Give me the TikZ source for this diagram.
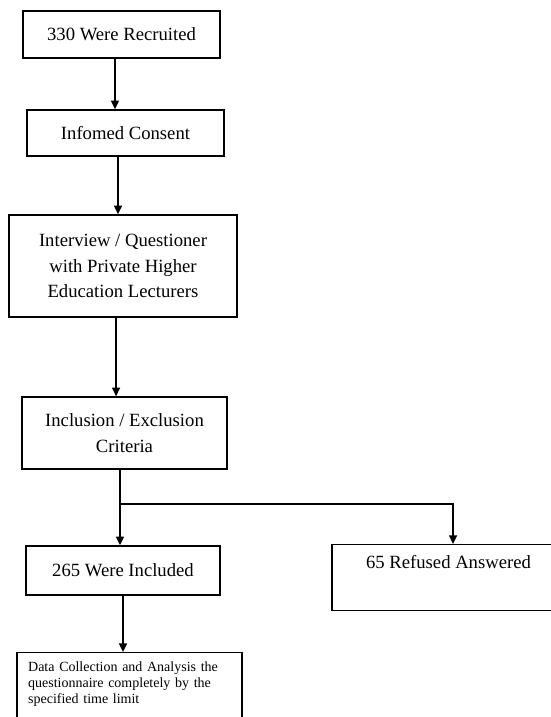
\documentclass[tikz,border=0pt]{standalone}
\usepackage{fontspec}
\setmainfont{Liberation Serif}
\usetikzlibrary{arrows.meta}
\tikzset{
  box/.style={draw, line width=1.1pt, inner sep=0pt, align=center,
    font=\fontsize{14}{19}\selectfont},
  arr/.style={line width=1.1pt, -{Triangle[length=6.5pt,width=6pt]}},
}
\begin{document}
\begin{tikzpicture}[x=0.75pt,y=-0.75pt]
    \useasboundingbox (0,0) rectangle (550,717);
    % Main column
    \node[box, minimum width=147.75pt, minimum height=35.25pt] (recruited) at (121.5,34.5) {330 Were Recruited};
    \node[box, minimum width=147.75pt, minimum height=34.5pt] (consent) at (125.5,133) {Infomed Consent};
    \node[box, minimum width=171pt, minimum height=76.5pt] (interview) at (123,266)
        {Interview / Questioner\\with Private Higher\\Education Lecturers};
    \node[box, minimum width=153.75pt, minimum height=54pt] (inclusion) at (124.5,433)
        {Inclusion / Exclusion\\Criteria};
    \node[box, minimum width=145.5pt, minimum height=36.75pt] (included) at (123,570.5) {265 Were Included};
    \node[box, anchor=north, align=left, text width=152pt, inner xsep=8.4pt,
        text height=14pt, text depth=60pt, font=\fontsize{10.5}{12}\selectfont] (data) at (129.5,652)
        {Data Collection and Analysis the\\questionnaire completely by the\\specified time limit};
    % Side box
    \node[box, anchor=north, minimum width=174.75pt, text height=18pt, text depth=31.5pt] (refused) at (448.5,544)
        {65 Refused Answered};
    % Arrows
    \draw[arr] ([xshift=-4.9pt]recruited.south) -- ([xshift=-4.9pt]recruited.south |- consent.north);
    \draw[arr] ([xshift=-5.6pt]consent.south) -- ([xshift=-5.6pt]consent.south |- interview.north);
    \draw[arr] ([xshift=-5.2pt]interview.south) -- ([xshift=-5.2pt]interview.south |- inclusion.north);
    % Split
    \coordinate (split) at ([xshift=-3.4pt]inclusion.south |- 0,504);
    \draw[line width=1.1pt] ([xshift=-3.4pt]inclusion.south) -- (split);
    \draw[arr] (split) -- (split |- included.north);
    \draw[arr] (split) -| ([xshift=3.4pt]refused.north);
    \draw[arr] (included.south) -- (included.south |- data.north);
\end{tikzpicture}
\end{document}
